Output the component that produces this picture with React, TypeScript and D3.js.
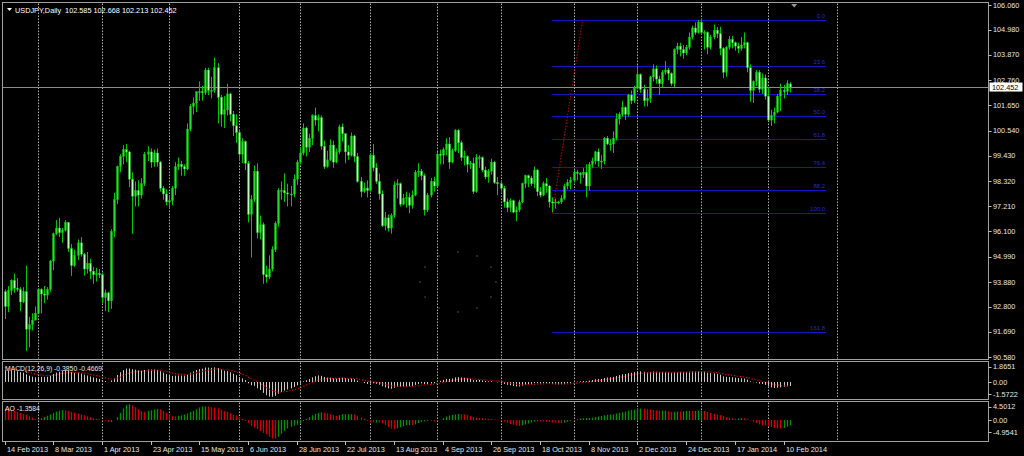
import React, { useEffect } from "react";
import * as d3 from "d3";

const dateLabels = ["14 Feb 2013","8 Mar 2013","1 Apr 2013","23 Apr 2013","15 May 2013","6 Jun 2013","28 Jun 2013","22 Jul 2013","13 Aug 2013","4 Sep 2013","26 Sep 2013","18 Oct 2013","8 Nov 2013","2 Dec 2013","24 Dec 2013","17 Jan 2014","10 Feb 2014"];
const labelEvery = 16;
const monthGridBars = [11, 32, 54, 77, 97, 120, 142, 163, 187, 208, 229, 251, 273.5];
const priceTicks = [106.06, 104.98, 103.87, 102.76, 101.65, 100.54, 99.43, 98.32, 97.21, 96.1, 94.99, 93.88, 92.8, 91.69, 90.58];
const macdTicks = [1.8651, 0, -1.5722];
const aoTicks = [4.5012, 0, -4.9541];

const opens = [93.45,92.80,93.50,93.95,93.60,93.55,93.00,93.45,91.80,92.00,92.20,92.50,93.55,93.35,93.30,93.55,94.80,96.00,96.25,96.05,96.15,96.50,95.35,94.60,95.05,95.60,95.10,94.45,94.70,94.35,94.20,94.25,94.20,93.20,93.40,93.05,96.10,97.50,98.95,99.40,99.70,99.60,98.40,97.65,97.90,97.70,98.20,99.50,99.60,99.15,99.55,99.15,98.00,97.75,97.40,97.45,98.00,98.95,99.05,98.95,98.85,100.60,101.60,101.75,102.25,102.25,102.20,103.20,102.30,102.30,103.30,102.00,101.25,101.45,102.15,101.25,100.75,100.45,99.50,100.05,99.10,96.85,97.50,98.75,96.05,96.40,94.20,94.10,94.45,95.30,96.45,97.90,97.90,97.80,97.75,97.75,98.40,99.15,99.55,100.65,99.80,100.20,101.20,101.00,101.10,99.85,98.95,99.25,99.90,99.15,99.60,100.70,100.40,99.60,99.45,100.30,99.40,98.30,97.85,98.00,97.90,99.45,98.90,98.30,97.75,96.35,96.70,96.25,96.80,98.15,98.20,97.30,97.55,97.60,97.25,97.70,98.70,98.75,98.55,97.05,97.70,98.30,98.10,99.50,99.45,99.70,99.95,99.15,99.65,100.55,100.00,99.35,99.40,99.05,99.10,97.85,99.35,99.35,98.80,98.50,98.75,99.15,98.25,98.20,98.00,97.40,97.15,97.45,96.95,97.05,97.40,98.20,98.55,98.45,98.20,98.80,97.85,97.70,98.20,98.10,97.40,97.35,97.40,97.40,97.55,98.10,98.25,98.35,98.70,98.65,98.60,98.70,98.10,99.05,99.20,99.60,99.20,99.20,100.20,99.95,99.95,100.20,101.05,101.25,101.55,101.25,102.10,101.85,102.40,103.00,102.35,101.85,101.95,102.90,103.25,102.80,102.60,103.10,103.20,103.05,102.60,104.10,104.25,104.10,103.95,104.20,104.65,105.05,104.85,105.30,104.85,104.85,104.20,104.65,104.95,104.80,104.15,103.10,104.20,104.55,104.40,104.25,104.15,104.30,104.40,103.30,102.30,102.70,103.10,102.35,102.85,102.05,101.00,101.20,101.35,102.05,102.30,102.25,102.585];
const highs = [93.55,93.70,94.00,94.25,94.05,93.65,93.65,94.60,92.35,92.50,92.80,93.60,93.60,93.70,93.65,94.85,96.05,96.60,96.70,96.25,96.60,96.50,95.55,95.30,95.75,95.85,95.15,95.20,94.90,94.55,94.50,94.45,94.30,93.55,93.45,96.20,97.80,99.00,99.50,99.90,99.95,99.65,98.70,98.30,98.35,98.45,99.60,99.85,99.75,99.70,99.75,99.20,98.10,97.95,97.70,98.10,99.15,99.35,99.20,99.05,100.85,101.70,102.00,102.25,102.70,102.50,103.30,103.30,102.90,103.75,103.50,102.10,102.05,102.60,102.20,101.40,101.25,100.55,100.20,100.10,99.20,97.70,99.00,99.10,96.80,96.50,94.60,95.05,95.45,96.55,98.00,98.30,98.65,98.20,98.10,98.60,99.25,99.80,100.85,100.70,100.40,101.25,101.55,101.25,101.20,100.10,99.65,100.15,100.10,99.75,100.80,100.85,100.40,99.90,100.45,100.35,99.55,98.50,98.25,98.35,99.55,99.95,99.10,98.65,97.90,96.95,96.85,96.90,98.30,98.40,98.25,97.75,97.85,97.80,97.90,98.80,99.10,98.85,98.65,97.80,98.45,98.50,99.60,99.70,99.80,100.20,100.25,99.75,100.60,100.60,100.10,99.65,99.45,99.20,99.35,99.50,99.45,99.40,98.95,98.85,99.30,99.20,98.50,98.35,98.10,97.55,97.55,97.50,97.20,97.50,98.25,98.60,98.60,98.55,98.95,98.85,98.05,98.30,98.45,98.15,97.60,97.55,97.45,97.70,98.20,98.40,98.50,98.80,98.80,98.70,98.90,99.05,99.15,99.35,99.65,99.75,99.45,100.25,100.30,100.15,100.50,101.30,101.35,101.85,101.60,102.15,102.30,102.50,103.40,103.05,102.55,102.35,102.95,103.45,103.40,102.95,103.20,103.60,103.30,103.10,104.15,104.40,104.40,104.30,104.30,104.85,105.15,105.30,105.40,105.44,104.95,104.90,104.75,105.20,105.10,105.10,104.20,104.25,104.70,104.70,104.45,104.40,104.65,104.85,104.45,103.45,102.75,103.20,103.20,103.05,103.00,102.45,101.45,101.55,102.15,102.60,102.55,102.75,102.668];
const lows = [92.25,92.55,93.30,93.40,93.45,92.60,92.95,90.85,91.00,91.75,92.25,92.50,92.50,92.95,93.10,93.45,94.40,95.95,95.85,95.60,96.10,95.20,94.15,94.55,94.85,95.00,94.15,94.25,94.00,93.80,93.90,94.05,92.95,92.60,92.55,92.70,95.85,97.30,98.70,99.05,99.15,98.05,96.00,97.20,97.20,97.55,98.10,99.20,98.90,98.95,98.95,97.85,97.50,97.25,97.10,97.25,97.70,98.80,98.55,98.55,98.80,100.50,101.25,101.35,101.85,101.85,102.10,102.10,101.95,102.20,100.85,100.70,100.65,101.20,100.95,100.30,100.00,99.20,99.10,98.80,96.50,94.95,97.40,95.80,95.75,93.80,93.85,94.00,94.35,95.20,96.30,97.50,97.40,97.20,97.20,97.60,98.15,99.05,99.45,99.40,99.60,99.90,100.75,100.50,99.70,98.85,98.90,99.20,98.90,99.10,99.50,100.05,99.10,99.25,99.40,99.15,98.25,97.60,97.80,97.60,97.85,98.75,98.20,97.50,96.30,96.15,96.10,96.00,96.70,97.55,97.20,97.25,97.15,96.90,97.10,97.65,98.50,98.35,96.80,96.95,97.60,97.85,98.05,99.05,99.05,99.45,98.85,99.10,99.60,99.55,99.20,99.00,98.70,98.85,97.75,97.80,98.90,98.70,98.40,98.25,98.60,98.20,97.70,97.85,97.15,96.95,96.95,96.90,96.55,96.95,97.35,98.00,98.05,98.10,98.00,97.65,97.60,97.65,97.80,97.15,96.95,97.10,97.30,97.30,97.50,97.95,97.95,98.25,98.35,98.20,98.45,97.60,97.90,98.90,99.05,98.95,98.85,99.05,99.90,99.65,99.55,100.10,100.80,101.15,101.00,101.15,101.70,101.75,102.35,102.20,101.60,101.60,101.75,102.70,102.60,102.10,102.45,103.00,102.75,102.50,102.45,103.90,103.80,103.70,103.85,104.10,104.55,104.75,104.80,104.75,104.10,103.90,104.10,104.55,104.60,103.85,102.85,102.90,104.10,104.15,104.05,103.95,104.05,104.15,103.10,101.80,101.75,102.50,102.20,102.15,101.90,100.95,100.75,100.85,101.30,101.40,101.95,102.10,102.213];
const closes = [92.80,93.50,93.95,93.60,93.55,93.00,93.45,91.80,92.00,92.20,92.50,93.55,93.35,93.30,93.55,94.80,96.00,96.25,96.05,96.15,96.50,95.35,94.60,95.05,95.60,95.10,94.45,94.70,94.35,94.20,94.25,94.20,93.20,93.40,93.05,96.10,97.50,98.95,99.40,99.70,99.60,98.40,97.65,97.90,97.70,98.20,99.50,99.60,99.15,99.55,99.15,98.00,97.75,97.40,97.45,98.00,98.95,99.05,98.95,98.85,100.60,101.60,101.75,102.25,102.25,102.20,103.20,102.30,102.30,103.30,102.00,101.25,101.45,102.15,101.25,100.75,100.45,99.50,100.05,99.10,96.85,97.50,98.75,96.05,96.40,94.20,94.10,94.45,95.30,96.45,97.90,97.90,97.80,97.75,97.75,98.40,99.15,99.55,100.65,99.80,100.20,101.20,101.00,101.10,99.85,98.95,99.25,99.90,99.15,99.60,100.70,100.40,99.60,99.45,100.30,99.40,98.30,97.85,98.00,97.90,99.45,98.90,98.30,97.75,96.35,96.70,96.25,96.80,98.15,98.20,97.30,97.55,97.60,97.25,97.70,98.70,98.75,98.55,97.05,97.70,98.30,98.10,99.50,99.45,99.70,99.95,99.15,99.65,100.55,100.00,99.35,99.40,99.05,99.10,97.85,99.35,99.35,98.80,98.50,98.75,99.15,98.25,98.20,98.00,97.40,97.15,97.45,96.95,97.05,97.40,98.20,98.55,98.45,98.20,98.80,97.85,97.70,98.20,98.10,97.40,97.35,97.40,97.40,97.55,98.10,98.25,98.35,98.70,98.65,98.60,98.70,98.10,99.05,99.20,99.60,99.20,99.20,100.20,99.95,99.95,100.20,101.05,101.25,101.55,101.25,102.10,101.85,102.40,103.00,102.35,101.85,101.95,102.90,103.25,102.80,102.60,103.10,103.20,103.05,102.60,104.10,104.25,104.10,103.95,104.20,104.65,105.05,104.85,105.30,104.85,104.85,104.20,104.65,104.95,104.80,104.15,103.10,104.20,104.55,104.40,104.25,104.15,104.30,104.40,103.30,102.30,102.70,103.10,102.35,102.85,102.05,101.00,101.20,101.35,102.05,102.30,102.25,102.60,102.452];

const aoHead = [2.9,2.75,2.55,2.3,2.05,1.8,1.55,1.3,0.95,0.6,0.35,0.25,0.5,0.8,1.1,1.4,1.75,2.1,2.35,2.5,2.45,2.3,2.1,1.85,1.6,1.4,1.2,0.95,0.75,0.5,0.3,0.1,-0.1];
const macdSeed = [92.6, 91.4, 1.5];

const fibLevels = [0, 23.6, 38.2, 50, 61.8, 76.4, 88.2, 100, 161.8];
const fibHigh = 105.40;
const fibLow = 96.92;
const fibBars = [180, 190, 270];

const headerSymbol = "USDJPY,Daily";
const headerOhlc = "102.585 102.668 102.213 102.452";
const macdTitle = "MACD(12,26,9) -0.3850 -0.4669";
const aoTitle = "AO -1.3584";
const lastPrice = 102.452;

const FONT = "'Liberation Sans', Arial, sans-serif";

export default function App() {
  useEffect(() => {
    document.body.style.margin = "0";
    document.body.style.background = "#000";
  }, []);

  const W = 1024, H = 456;
  const L = 2.5, R = 988.5;
  const mainTop = 2.5, mainBot = 359.5;
  const macdTop = 361.5, macdBot = 399.5;
  const aoTop = 401.5, aoBot = 441.5;

  const x = d3.scaleLinear().domain([0, 256]).range([4.5, 783.5]);
  const y = d3.scaleLinear().domain([90.58, 106.06]).range([357, 5]);
  const yM = d3.scaleLinear().domain([-1.5722, 1.8651]).range([398, 363]);
  const yA = d3.scaleLinear().domain([-4.9541, 4.5012]).range([440, 402]);

  // MACD (12,26,9)
  let e12 = macdSeed[0], e26 = macdSeed[1], sg = macdSeed[2];
  const macd: number[] = [];
  const signal: number[] = [];
  closes.forEach((c) => {
    e12 += (c - e12) * (2 / 13);
    e26 += (c - e26) * (2 / 27);
    const m = e12 - e26;
    sg += (m - sg) * (2 / 10);
    macd.push(m);
    signal.push(sg);
  });

  // Awesome Oscillator
  const med = highs.map((h, i) => (h + lows[i]) / 2);
  const ao = med.map((_, i) => {
    if (i < aoHead.length) return aoHead[i];
    const s5 = d3.mean(med.slice(i - 4, i + 1)) as number;
    const s34 = d3.mean(med.slice(i - 33, i + 1)) as number;
    return s5 - s34;
  });

  const px = (i: number) => Math.round(x(i)) + 0.5;
  const bull = "#28e028";
  const bear = "#b8ffb8";
  const wick = "#00c800";

  const signalPath = d3.line<number>().x((_, i) => x(i)).y((d) => yM(d))(signal) || "";

  const gridFor = (t: number, b: number, key: string) =>
    monthGridBars.map((g) => (
      <line key={key + g} x1={px(g)} x2={px(g)} y1={t + 1} y2={b - 1} stroke="#d0d0d0" strokeWidth={1} strokeDasharray="1.5,1.5" opacity={0.85} />
    ));

  const loader = d3.range(12).map((k) => {
    const a = (k / 12) * Math.PI * 2;
    return { cx: 458 + Math.cos(a) * 38, cy: 282 + Math.sin(a) * 30 };
  });

  const fy = (lv: number) => y(fibHigh - (lv / 100) * (fibHigh - fibLow));

  return (
    <svg width={W} height={H} style={{ position: "absolute", left: 0, top: 0, background: "#000" }} fontFamily={FONT}>
      <rect x={0} y={0} width={W} height={H} fill="#000" />
      {/* grids */}
      {gridFor(mainTop, mainBot, "m")}
      {gridFor(macdTop, macdBot, "d")}
      {gridFor(aoTop, aoBot, "a")}

      {/* loader dots (screen artefact) */}
      {loader.map((d, i) => (
        <circle key={"ld" + i} cx={d.cx} cy={d.cy} r={0.9} fill="#3a3a3a" />
      ))}

      {/* fibonacci */}
      {fibLevels.map((lv) => (
        <g key={"fib" + lv}>
          <line x1={x(fibBars[0])} x2={x(fibBars[2])} y1={Math.round(fy(lv)) + 0.5} y2={Math.round(fy(lv)) + 0.5} stroke="#1414c8" strokeWidth={1.1} />
          <text x={x(fibBars[2]) - 1} y={Math.round(fy(lv)) - 2} fontSize={6} fill="#2a2ad0" textAnchor="end">
            {lv.toFixed(1)}
          </text>
        </g>
      ))}
      <line x1={x(fibBars[0])} y1={y(fibLow)} x2={x(fibBars[1])} y2={y(fibHigh)} stroke="#cc0000" strokeWidth={1} strokeDasharray="1.5,1.5" />

      {/* current price line */}
      <line x1={L} x2={R} y1={Math.round(y(lastPrice)) + 0.5} y2={Math.round(y(lastPrice)) + 0.5} stroke="#8c8c8c" strokeWidth={1} />

      {/* candles */}
      {closes.map((c, i) => {
        const o = opens[i];
        const xc = Math.round(x(i));
        const top = y(Math.max(o, c));
        const bh = Math.max(1, Math.abs(y(o) - y(c)));
        return (
          <g key={"c" + i}>
            <line x1={xc + 0.5} x2={xc + 0.5} y1={y(highs[i])} y2={y(lows[i])} stroke={wick} strokeWidth={1} />
            <rect x={xc - 0.5} y={top} width={2} height={bh} fill={c >= o ? bull : bear} stroke={wick} strokeWidth={0.4} />
          </g>
        );
      })}

      {/* MACD histogram + signal */}
      {macd.map((m, i) => (
        <line key={"mh" + i} x1={px(i)} x2={px(i)} y1={yM(0)} y2={yM(m)} stroke="#c8c8c8" strokeWidth={1} />
      ))}
      <path d={signalPath} fill="none" stroke="#e00000" strokeWidth={1.2} strokeDasharray="1.2,1.8" />

      {/* AO */}
      {ao.map((v, i) => (
        <line key={"ao" + i} x1={px(i)} x2={px(i)} y1={yA(0)} y2={yA(v)} stroke={i > 0 && v > ao[i - 1] ? "#009000" : "#cc0000"} strokeWidth={1.3} />
      ))}

      {/* panel borders */}
      <rect x={L} y={mainTop} width={R - L} height={mainBot - mainTop} fill="none" stroke="#a0a0a0" strokeWidth={1} />
      <rect x={L} y={macdTop} width={R - L} height={macdBot - macdTop} fill="none" stroke="#a0a0a0" strokeWidth={1} />
      <rect x={L} y={aoTop} width={R - L} height={aoBot - aoTop} fill="none" stroke="#a0a0a0" strokeWidth={1} />

      {/* header */}
      <path d="M7,8 L12,8 L9.5,11 Z" fill="#ffffff" />
      <text x={15} y={12.5} fontSize={7.3} fill="#ffffff">
        {headerSymbol}
        <tspan dx={4}>{headerOhlc}</tspan>
      </text>
      <path d={`M${x(259.5) - 3},4 L${x(259.5) + 3},4 L${x(259.5)},7.5 Z`} fill="#9a9a9a" />

      {/* indicator titles */}
      <text x={5} y={371} fontSize={6.8} fill="#e8e8e8">{macdTitle}</text>
      <text x={5} y={411} fontSize={6.8} fill="#e8e8e8">{aoTitle}</text>

      {/* price axis */}
      {priceTicks.map((p) => (
        <g key={"pt" + p}>
          <line x1={R} x2={R + 3} y1={Math.round(y(p)) + 0.5} y2={Math.round(y(p)) + 0.5} stroke="#c0c0c0" />
          <text x={993} y={y(p) + 2.6} fontSize={7.3} fill="#e6e6e6">{p.toFixed(3)}</text>
        </g>
      ))}
      <rect x={989.5} y={y(lastPrice) - 4.5} width={33} height={9} fill="#ffffff" />
      <text x={992} y={y(lastPrice) + 2.6} fontSize={7.3} fill="#000000">{lastPrice.toFixed(3)}</text>

      {macdTicks.map((v, k) => {
        const yy = k === 0 ? yM(v) + 3.5 : k === 2 ? yM(v) - 4 : yM(v);
        return (
          <g key={"mt" + k}>
            <line x1={R} x2={R + 3} y1={Math.round(yy) + 0.5} y2={Math.round(yy) + 0.5} stroke="#c0c0c0" />
            <text x={993} y={yy + 2.6} fontSize={7.3} fill="#e6e6e6">{v === 0 ? "0.00" : v.toFixed(4)}</text>
          </g>
        );
      })}
      {aoTicks.map((v, k) => {
        const yy = k === 0 ? yA(v) + 4.5 : k === 2 ? yA(v) - 8 : yA(v);
        return (
          <g key={"at" + k}>
            <line x1={R} x2={R + 3} y1={Math.round(yy) + 0.5} y2={Math.round(yy) + 0.5} stroke="#c0c0c0" />
            <text x={993} y={yy + 2.6} fontSize={7.3} fill="#e6e6e6">{v === 0 ? "0.00" : v.toFixed(4)}</text>
          </g>
        );
      })}

      {/* time axis */}
      {dateLabels.map((d, k) => {
        const xi = px(k * labelEvery);
        return (
          <g key={"dl" + k}>
            <line x1={xi} x2={xi} y1={aoBot} y2={aoBot + 3.5} stroke="#c0c0c0" />
            <text x={xi + 1.5} y={451.5} fontSize={7.3} fill="#e6e6e6">{d}</text>
          </g>
        );
      })}
    </svg>
  );
}
